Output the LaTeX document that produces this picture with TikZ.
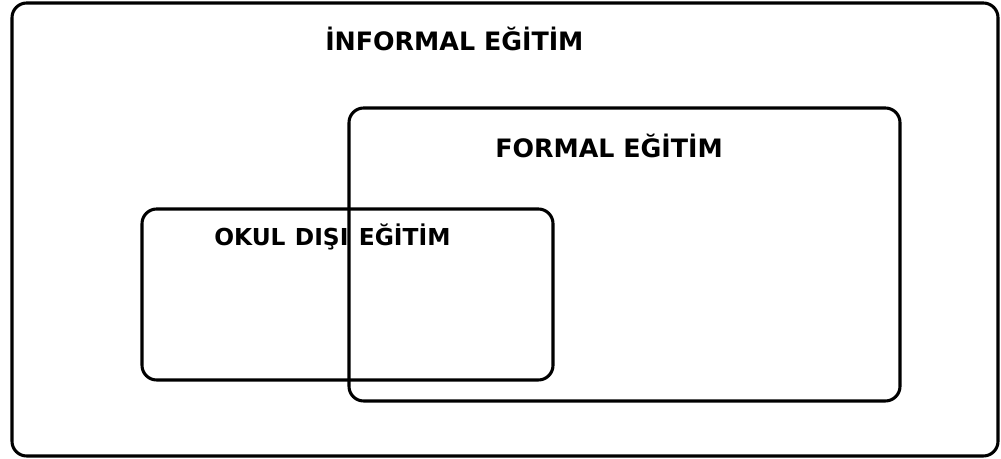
\documentclass[tikz,border=0pt]{standalone}
\usepackage{fontspec}
\setmainfont{DejaVu Sans}
\begin{document}
\begin{tikzpicture}[x=0.75pt, y=-0.75pt,
        box/.style={draw=black, line width=2.3pt, rounded corners=11pt},
        label/.style={anchor=base west, inner sep=0pt,
          font=\bfseries\fontsize{19}{23}\selectfont}
      ]
      \useasboundingbox (0,0) rectangle (1001,459);

      \draw[box] (12,3) rectangle (998,456);
      \draw[box] (349,108) rectangle (900,401);
      \draw[box] (142,209) rectangle (553,380);

      \node[label] (informal) at (325,51) {İNFORMAL EĞİTİM};
      \node[label] (formal) at (495,158) {FORMAL EĞİTİM};
      \node[label, font=\bfseries\fontsize{17.5}{21}\selectfont] (okul) at (214,246) {OKUL\hspace{0.4em}DIŞI\hspace{0.1em} EĞİTİM};
    \end{tikzpicture}
\end{document}
